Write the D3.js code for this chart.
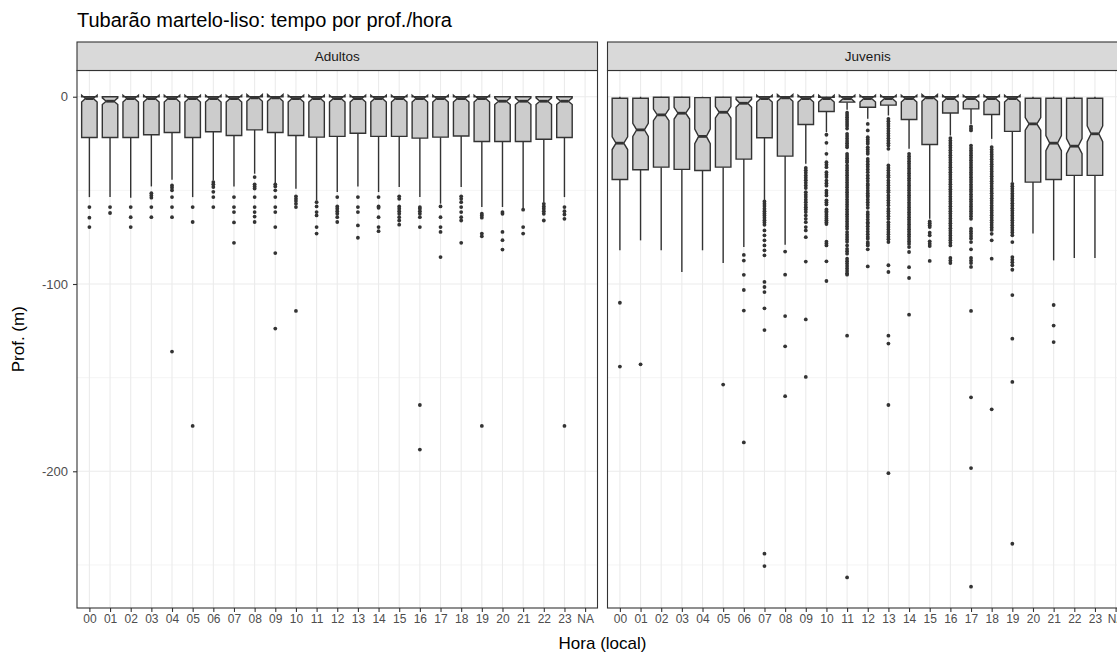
<!DOCTYPE html>
<html><head><meta charset="utf-8">
<script src="https://cdn.jsdelivr.net/npm/d3@7"></script>
<style>
html,body{margin:0;padding:0;background:#fff;overflow:hidden}
svg{display:block;font-family:"Liberation Sans",Arial,sans-serif}
</style></head>
<body><svg id="chart" width="1117" height="653"></svg>
<script>
// ---------- DATA ----------
const hours = ["00","01","02","03","04","05","06","07","08","09","10","11","12","13","14","15","16","17","18","19","20","21","22","23","NA"];
const panels = ["Adultos","Juvenis"];
const yTicks = [0,-100,-200];
const yMinorTicks = [-50,-150,-250];

// Adultos (hours 00..23)
const adQ3  = [0,0,0,0,0,0,0,0,0,0,0,0,0,0,0,0,0,0,0,0,0,0,0,0];
const adMed = [-1,-2.4,-1,-1,-1,-1,-1,-1,-0.6,-0.6,-1,-1,-1,-1,-1,-1,-1,-1,-1,-1,-2.4,-2.4,-2.4,-2.4];
const adNotch = [1.8,1.8,1.8,1.8,1.8,1.8,1.8,1.8,1.8,1.8,1.8,1.8,1.8,1.8,1.8,1.8,1.8,1.8,1.8,1.8,1.8,1.8,1.8,1.8];
const adQ1  = [-21.8,-21.8,-21.8,-20.3,-19.1,-21.8,-18.7,-20.7,-17.7,-19.1,-20.7,-21.6,-21.2,-19.5,-21.2,-21.2,-22.1,-21.6,-21.0,-23.9,-23.9,-23.9,-22.7,-21.8];
const adWhiHi = [0,0,0,0,0,0,0,0,0,0,0,0,0,0,0,0,0,0,0,0,0,0,0,0];
const adWhiLo = [-53.6,-53.6,-53.9,-47.9,-44.3,-53.6,-44.7,-47.9,-41.1,-46.1,-49.1,-55.4,-50.9,-47.9,-50.9,-48.2,-53.6,-57.1,-48.2,-58.9,-58.9,-59.8,-56.3,-53.6];
const adOut = [
  [-58.9,-64.6,-69.6],
  [-58.9,-62.1],
  [-58.9,-64.3,-69.6],
  [-51.5,-52.7,-53.9,-58.9,-64.3],
  [-47.4,-48.6,-50.0,-53.6,-58.9,-64.3,-136.1],
  [-58.9,-66.9,-175.8],
  [-45.6,-46.8,-48.2,-50.8,-53.6,-58.9],
  [-53.6,-58.9,-61.6,-67.1,-78.0],
  [-42.9,-46.8,-47.9,-49.0,-53.6,-58.9,-61.6,-64.0,-66.9],
  [-46.8,-47.9,-50.0,-53.6,-58.9,-61.6,-69.6,-83.5,-123.8],
  [-53.2,-54.5,-55.7,-57.2,-58.9,-114.4],
  [-56.3,-58.6,-61.6,-63.4,-69.6,-73.1],
  [-53.6,-58.6,-59.8,-61.1,-62.5,-64.3,-66.9],
  [-53.6,-58.9,-61.6,-68.7,-75.3],
  [-53.6,-58.6,-59.3,-64.3,-69.6,-71.8],
  [-53.2,-54.5,-58.6,-59.8,-61.1,-62.5,-64.3,-66.1,-68.3],
  [-58.9,-59.8,-61.1,-62.5,-64.3,-69.6,-164.6,-188.4],
  [-58.6,-64.3,-69.6,-72.2,-85.6],
  [-53.2,-54.5,-56.3,-58.9,-61.6,-64.3,-66.1,-78.0],
  [-62.5,-63.4,-64.6,-73.1,-74.5,-175.8],
  [-61.6,-62.5,-72.2,-76.6,-81.6],
  [-60.3,-69.6,-73.1],
  [-57.2,-58.6,-59.8,-61.1,-62.5,-66.1],
  [-58.9,-61.1,-62.9,-65.2,-175.8]
];

// Juvenis (hours 00..23)
const juQ3  = [-0.8,-0.8,-0.3,-0.3,-0.5,-0.3,-0.3,0,0,0,-0.3,0,0,0,0,0,0,0,0,0,-0.8,-0.8,-0.8,-0.8];
const juMed = [-24.8,-17.7,-9.7,-8.8,-21.2,-8.3,-3.5,-1,-0.6,-1,-1,-1,-1,-1,-1,-0.6,-1,-1,-1,-1,-14.5,-24.8,-26.4,-19.8];
const juNotch = [3.4,3.5,3.1,3.1,3.9,3.0,2.1,1.8,1.8,1.8,1.8,1.8,1.8,1.8,1.8,1.8,1.8,1.8,1.8,1.8,3.4,4.0,4.0,4.2];
const juQ1  = [-44.2,-39.0,-37.6,-38.8,-39.4,-37.6,-33.3,-21.9,-31.7,-14.8,-7.9,-2.9,-5.6,-4.5,-12.2,-25.5,-8.7,-6.5,-9.5,-18.5,-45.6,-44.2,-42.0,-42.0];
const juWhiHi = [0,0,0,0,0,0,0,0,0,0,0,0,0,0,0,0,0,0,0,0,0,0,0,0];
const juWhiLo = [-82.0,-76.7,-82.0,-93.6,-82.0,-88.8,-80.3,-55.4,-79.0,-35.8,-18.9,-7.0,-11.8,-10.0,-27.8,-65.2,-20.7,-14.5,-22.5,-45.6,-73.1,-87.4,-86.1,-86.1];
const juOut = [
  [-110.0,-144.1],
  [-142.9],
  [],
  [],
  [],
  [-153.7],
  [-84.5,-87.5,-95.1,-103.2,-114.2,-184.6],
  [-55.9,-57.2,-58.4,-59.8,-61.1,-62.3,-63.4,-64.6,-65.9,-67.1,-68.4,-71.4,-74.0,-76.7,-79.4,-82.0,-84.7,-98.9,-101.6,-104.3,-113.0,-124.6,-244.0,-250.6],
  [-82.7,-95.0,-117.1,-133.3,-159.9],
  [-38.0,-39.3,-40.6,-42.0,-43.3,-44.6,-46.0,-47.4,-48.8,-51.0,-52.4,-53.6,-55.0,-56.3,-57.7,-59.0,-60.2,-61.6,-63.4,-65.2,-67.0,-69.6,-71.4,-75.0,-88.0,-118.9,-149.6],
  [-20.3,-24.6,-30.5,-35.0,-36.3,-37.6,-40.3,-41.6,-42.9,-44.8,-46.2,-47.5,-50.1,-51.4,-52.7,-55.3,-56.4,-57.5,-60.2,-61.1,-62.0,-63.0,-64.0,-65.0,-66.0,-67.0,-68.0,-77.4,-78.4,-79.4,-87.9,-98.4],
  [-8.5,-9.7,-10.9,-12.1,-13.3,-14.5,-15.7,-17.0,-19.8,-21.0,-22.3,-23.6,-24.8,-26.0,-27.0,-30.5,-31.6,-32.8,-34.0,-35.0,-36.7,-38.0,-39.3,-40.6,-41.9,-43.2,-44.5,-45.8,-47.1,-48.4,-49.7,-51.0,-52.3,-53.6,-54.9,-56.2,-57.5,-58.8,-60.1,-61.4,-62.7,-64.0,-65.3,-66.6,-67.9,-69.2,-70.5,-72.3,-73.6,-74.9,-76.2,-77.5,-79.4,-81.2,-82.5,-83.8,-86.5,-87.8,-89.1,-90.4,-91.7,-93.0,-94.3,-95.0,-127.6,-256.7],
  [-14.5,-18.0,-21.6,-22.8,-24.0,-25.1,-27.0,-28.2,-29.4,-30.5,-33.2,-34.6,-36.0,-37.4,-38.8,-40.3,-42.0,-43.5,-45.0,-46.5,-47.4,-48.8,-50.2,-51.5,-52.7,-53.6,-55.0,-56.4,-57.8,-59.3,-61.6,-62.9,-64.2,-65.6,-67.0,-67.8,-69.2,-70.6,-72.0,-73.4,-74.8,-75.8,-77.6,-78.5,-79.4,-81.5,-90.6],
  [-11.8,-13.1,-14.4,-15.7,-17.0,-18.3,-19.6,-20.9,-22.2,-23.5,-24.8,-26.1,-27.8,-36.7,-38.0,-39.3,-40.6,-41.9,-43.0,-44.7,-46.0,-47.3,-48.6,-49.9,-51.0,-52.7,-54.0,-55.3,-56.6,-58.0,-59.8,-61.1,-62.4,-63.8,-65.2,-67.0,-68.3,-69.6,-70.9,-72.2,-73.5,-74.8,-76.1,-77.6,-90.0,-93.6,-127.6,-131.8,-164.6,-201.0],
  [-30.5,-31.8,-33.1,-34.4,-35.7,-37.0,-38.3,-39.6,-40.9,-42.2,-43.5,-44.8,-46.1,-47.4,-48.7,-50.0,-51.3,-52.6,-53.9,-55.2,-56.5,-57.8,-59.1,-60.4,-61.7,-63.0,-64.3,-65.6,-66.9,-68.2,-69.5,-70.8,-72.1,-73.4,-74.7,-76.0,-77.3,-78.6,-80.3,-82.9,-91.0,-96.8,-116.4],
  [-66.6,-67.6,-68.6,-69.6,-72.6,-74.0,-77.2,-78.5,-79.7,-87.7],
  [-22.1,-23.4,-24.7,-26.0,-27.3,-28.6,-29.9,-31.2,-32.5,-33.8,-35.1,-36.4,-37.7,-39.0,-40.3,-41.6,-42.9,-44.2,-45.5,-46.8,-48.1,-49.4,-50.7,-52.0,-53.3,-54.6,-55.9,-57.2,-58.5,-59.8,-61.1,-62.4,-63.7,-65.0,-66.3,-67.6,-68.9,-70.2,-71.5,-72.8,-74.1,-75.4,-76.7,-78.0,-79.4,-86.1,-87.5,-88.8],
  [-15.9,-17.0,-18.0,-26.1,-27.4,-28.7,-30.0,-31.3,-32.6,-33.9,-35.2,-36.5,-37.8,-39.1,-40.4,-41.7,-43.0,-44.3,-45.6,-46.9,-48.2,-49.5,-50.8,-52.1,-53.4,-54.7,-56.0,-57.3,-58.6,-59.9,-61.2,-62.5,-63.8,-65.2,-70.5,-71.8,-73.1,-74.4,-75.7,-77.6,-81.5,-86.1,-87.5,-88.8,-90.9,-114.4,-160.5,-198.3,-261.6],
  [-26.9,-28.2,-29.5,-30.8,-32.1,-33.4,-34.7,-36.0,-37.3,-38.6,-39.9,-41.2,-42.5,-43.8,-45.1,-46.4,-47.7,-49.0,-50.3,-51.6,-52.9,-54.2,-55.5,-56.8,-58.1,-59.4,-60.7,-62.0,-63.3,-64.6,-65.9,-67.2,-68.5,-69.8,-71.1,-73.2,-76.7,-86.5,-166.9],
  [-46.5,-47.8,-49.1,-50.4,-51.7,-53.0,-54.3,-55.6,-56.9,-58.2,-59.5,-60.8,-62.1,-63.4,-64.7,-66.0,-67.3,-68.6,-69.9,-71.2,-72.5,-74.0,-77.6,-85.6,-87.0,-88.4,-90.0,-92.4,-105.9,-129.2,-152.3,-238.7],
  [],
  [-111.2,-122.2,-131.0],
  [],
  []
];

// ---------- BUILD ----------
function build(q3, med, notch, q1, whi, wlo, out){
  return q3.map((d,i)=>({hour:hours[i], q3:q3[i], med:med[i], nhi:med[i]+notch[i], nlo:med[i]-notch[i], q1:q1[i], whi:whi[i], wlo:wlo[i], out:out[i]}));
}
const panelData = [
  build(adQ3, adMed, adNotch, adQ1, adWhiHi, adWhiLo, adOut),
  build(juQ3, juMed, juNotch, juQ1, juWhiHi, juWhiLo, juOut)
];

const svg = d3.select("#chart");
const panelW = 520.5, panelTop = 70.5, panelBot = 608, stripTop = 42;
const panelX = [77, 607.5];
const dark = "#333333";
const FONT = "Liberation Sans, Arial, sans-serif";

const y = d3.scaleLinear().domain([-273, 14]).range([panelBot, panelTop]);

// title
svg.append("text").attr("x", 77).attr("y", 27).attr("font-size", 20).attr("fill", "#000")
  .text("Tubarão martelo-liso: tempo por prof./hora");

panels.forEach((name, p) => {
  const x0 = panelX[p];
  const x = d3.scalePoint().domain(hours).range([x0, x0 + panelW]).padding(0.6);
  const step = x.step();
  const bw = step * 0.75;
  const g = svg.append("g");

  // background + grid
  g.append("rect").attr("x", x0).attr("y", panelTop).attr("width", panelW).attr("height", panelBot - panelTop).attr("fill", "#fff");
  g.selectAll(".ymin").data(yMinorTicks).join("line")
    .attr("x1", x0).attr("x2", x0 + panelW).attr("y1", d => y(d)).attr("y2", d => y(d))
    .attr("stroke", "#EBEBEB").attr("stroke-width", 0.55);
  g.selectAll(".ymaj").data(yTicks).join("line")
    .attr("x1", x0).attr("x2", x0 + panelW).attr("y1", d => y(d)).attr("y2", d => y(d))
    .attr("stroke", "#EBEBEB").attr("stroke-width", 1.1);
  g.selectAll(".xmaj").data(hours).join("line")
    .attr("x1", d => x(d)).attr("x2", d => x(d)).attr("y1", panelTop).attr("y2", panelBot)
    .attr("stroke", "#EBEBEB").attr("stroke-width", 1.1);

  const data = panelData[p];
  const bg = g.selectAll(".box").data(data).join("g");
  // whiskers
  bg.append("line").attr("x1", d => x(d.hour)).attr("x2", d => x(d.hour))
    .attr("y1", d => y(d.q3)).attr("y2", d => y(d.whi)).attr("stroke", dark).attr("stroke-width", 1.4);
  bg.append("line").attr("x1", d => x(d.hour)).attr("x2", d => x(d.hour))
    .attr("y1", d => y(d.q1)).attr("y2", d => y(d.wlo)).attr("stroke", dark).attr("stroke-width", 1.4);
  // notched box
  bg.append("path").attr("d", d => {
      const cx = x(d.hour), xl = cx - bw/2, xr = cx + bw/2, nw = bw/4;
      return `M${xl},${y(d.q3)}L${xl},${y(d.nhi)}L${cx-nw},${y(d.med)}L${xl},${y(d.nlo)}L${xl},${y(d.q1)}` +
             `L${xr},${y(d.q1)}L${xr},${y(d.nlo)}L${cx+nw},${y(d.med)}L${xr},${y(d.nhi)}L${xr},${y(d.q3)}Z`;
    })
    .attr("fill", "#CCCCCC").attr("stroke", dark).attr("stroke-width", 1.4).attr("stroke-linejoin", "miter");
  // median
  bg.append("line").attr("x1", d => x(d.hour) - bw/4).attr("x2", d => x(d.hour) + bw/4)
    .attr("y1", d => y(d.med)).attr("y2", d => y(d.med)).attr("stroke", dark).attr("stroke-width", 2.8);
  // outliers
  bg.selectAll("circle").data(d => d.out.map(v => ({hour: d.hour, v}))).join("circle")
    .attr("cx", d => x(d.hour)).attr("cy", d => y(d.v)).attr("r", 1.9).attr("fill", dark);

  // border
  g.append("rect").attr("x", x0).attr("y", panelTop).attr("width", panelW).attr("height", panelBot - panelTop)
    .attr("fill", "none").attr("stroke", dark).attr("stroke-width", 1.1);
  // strip
  g.append("rect").attr("x", x0).attr("y", stripTop).attr("width", panelW).attr("height", panelTop - stripTop)
    .attr("fill", "#D9D9D9").attr("stroke", dark).attr("stroke-width", 1.1);
  g.append("text").attr("x", x0 + panelW/2).attr("y", (stripTop + panelTop)/2).attr("dy", "0.35em")
    .attr("text-anchor", "middle").attr("font-size", 13.5).attr("fill", "#1A1A1A").text(name);

  // x axis
  const xa = g.append("g").attr("transform", `translate(0,${panelBot})`)
    .call(d3.axisBottom(x).tickSize(4).tickPadding(2));
  xa.select(".domain").remove();
  xa.selectAll(".tick line").attr("stroke", dark).attr("stroke-width", 1.1);
  xa.selectAll(".tick text").attr("fill", "#4D4D4D").attr("font-size", 12).attr("font-family", FONT);

  if (p === 0) {
    const ya = g.append("g").attr("transform", `translate(${x0},0)`)
      .call(d3.axisLeft(y).tickValues(yTicks).tickFormat(d => String(d)).tickSize(4).tickPadding(5));
    ya.select(".domain").remove();
    ya.selectAll(".tick line").attr("stroke", dark).attr("stroke-width", 1.1);
    ya.selectAll(".tick text").attr("fill", "#4D4D4D").attr("font-size", 13).attr("font-family", FONT);
  }
});

// axis titles
svg.append("text").attr("x", (panelX[0] + panelX[1] + panelW) / 2).attr("y", 649)
  .attr("text-anchor", "middle").attr("font-size", 17).attr("fill", "#000").text("Hora (local)");
svg.append("text").attr("transform", `translate(24,${(panelTop + panelBot)/2}) rotate(-90)`)
  .attr("text-anchor", "middle").attr("font-size", 17).attr("fill", "#000").text("Prof. (m)");
</script></body></html>
